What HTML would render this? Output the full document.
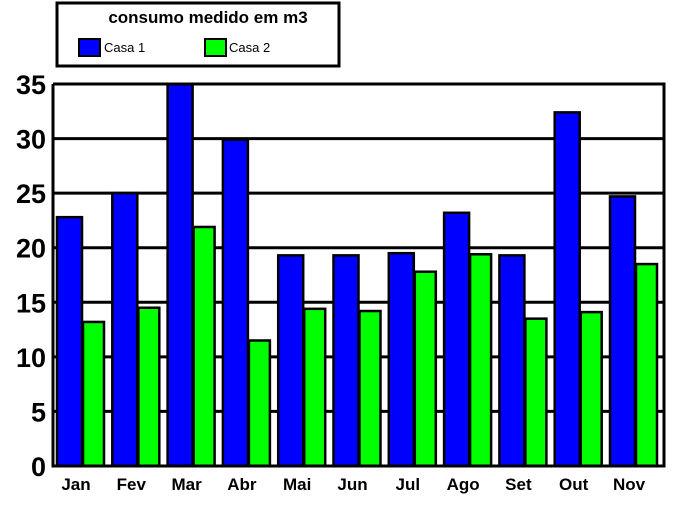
<!DOCTYPE html>
<html><head><meta charset="utf-8"><style>
body{margin:0;background:#fff;width:700px;height:507px;overflow:hidden;font-family:"Liberation Sans",Arial,sans-serif}
</style></head><body>
<svg width="700" height="507" xmlns="http://www.w3.org/2000/svg">
<g>
<rect x="57" y="3" width="282" height="63" fill="#fff" stroke="#000" stroke-width="3"/>
<text x="208" y="23" text-anchor="middle" font-size="17" font-weight="bold" font-family="Liberation Sans, sans-serif">consumo medido em m3</text>
<rect x="79" y="39" width="21" height="17" fill="#0000ff" stroke="#000" stroke-width="2"/>
<text x="104" y="52" font-size="13" font-family="Liberation Sans, sans-serif">Casa 1</text>
<rect x="205" y="39" width="21" height="17" fill="#00ff00" stroke="#000" stroke-width="2"/>
<text x="229" y="52" font-size="13" font-family="Liberation Sans, sans-serif">Casa 2</text>
</g>
<g id="plot"></g>
</svg>
<script>
const categories=["Jan","Fev","Mar","Abr","Mai","Jun","Jul","Ago","Set","Out","Nov"];
const casa1=[22.8,25,35,29.9,19.3,19.3,19.5,23.2,19.3,32.4,24.7];
const casa2=[13.2,14.5,21.9,11.5,14.4,14.2,17.8,19.4,13.5,14.1,18.5];
const yTicks=[0,5,10,15,20,25,30,35];
const NS="http://www.w3.org/2000/svg";
const X0=53,X1=664,Y0=466,Y1=84,YMAX=35;
const y=v=>Y0-(v/YMAX)*(Y0-Y1);
const groupW=55.3;
const gx=i=>57+i*groupW;
const g=document.getElementById('plot');
function mk(t,a){const e=document.createElementNS(NS,t);for(const k in a)e.setAttribute(k,a[k]);g.appendChild(e);return e;}
yTicks.forEach(t=>{
  if(t>0){const l=mk('line',{x1:X0,x2:X1,y1:y(t),y2:y(t),stroke:'#000','stroke-width':3});
  
  }
  const tx=mk('text',{x:46,y:y(t)+10,'text-anchor':'end','font-size':27,'font-weight':'bold','font-family':'Liberation Sans, sans-serif'});
  tx.textContent=t;
  
  
});
categories.forEach((c,i)=>{
  const b=mk('rect',{x:gx(i),y:y(casa1[i]),width:25,height:Y0-y(casa1[i]),fill:'#0000ff',stroke:'#000','stroke-width':2.5});
  
  
  const b2=mk('rect',{x:gx(i)+26,y:y(casa2[i]),width:21,height:Y0-y(casa2[i]),fill:'#00ff00',stroke:'#000','stroke-width':2.5});
  
  
  const t=mk('text',{x:gx(i)+19,y:490,'text-anchor':'middle','font-size':17,'font-weight':'bold','font-family':'Liberation Sans, sans-serif'});
  t.textContent=c;
  
  
});
const ax=mk('polyline',{points:`${X0},${Y1} ${X0},${Y0} ${X1},${Y0} ${X1},${Y1} ${X0},${Y1}`,fill:'none',stroke:'#000','stroke-width':3});


</script>
</body></html>
